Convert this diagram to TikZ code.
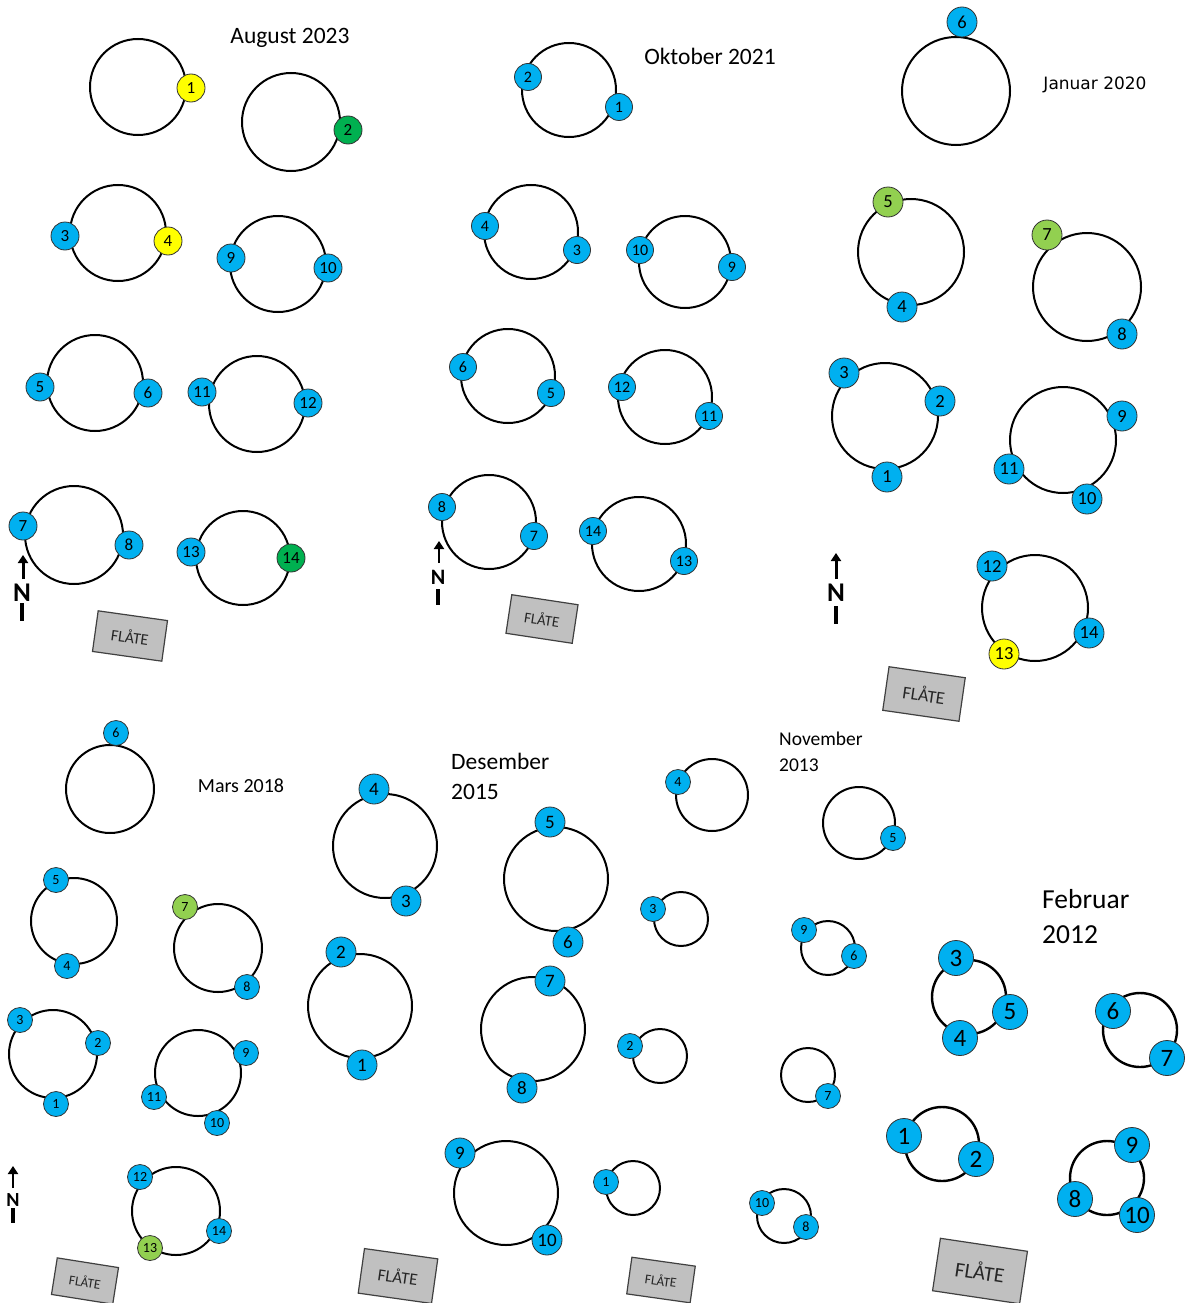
\documentclass[tikz,border=0pt]{standalone}
\usepackage{fontspec}
\setmainfont{Carlito}
\newfontfamily\dejavu{DejaVu Sans}
\usetikzlibrary{arrows.meta}
\definecolor{bblue}{HTML}{00B0F0}
\definecolor{byel}{HTML}{FFFF00}
\definecolor{bdgreen}{HTML}{00B050}
\definecolor{blgreen}{HTML}{92D050}
\definecolor{flgray}{HTML}{C0C0C0}
\newcommand\fsz[1]{\fontsize{#1}{#1}\selectfont}
\tikzset{
  cage/.style={circle, draw=black, line width=2pt, inner sep=0pt, minimum size=#1},
  buoy/.style={circle, draw=black!80, line width=0.8pt, fill=bblue, inner sep=0pt, text=black},
  bA/.style={buoy, minimum size=28pt, font=\fsz{17}},
  bO/.style={buoy, minimum size=27pt, font=\fsz{16}},
  bJ/.style={buoy, minimum size=30pt, font=\fsz{18.5}},
  bM/.style={buoy, minimum size=25pt, font=\fsz{14}},
  bD/.style={buoy, minimum size=30pt, font=\fsz{19}},
  bN/.style={buoy, minimum size=25pt, font=\fsz{14}},
  bF/.style={buoy, minimum size=35pt, font=\fsz{25}},
  flate/.style={draw=black!75, line width=1.2pt, fill=flgray, inner sep=0pt, text=black!85},
  narrow/.style={line width=3pt, -{Triangle[width=10pt,length=8pt]}},
  nbar/.style={line width=4pt},
  title/.style={text=black, inner sep=0pt},
}
\begin{document}
\begin{tikzpicture}[x=1pt,y=-1pt]
\useasboundingbox (0,0) rectangle (1187,1303);
\fill[white] (0,0) rectangle (1187,1303);

% ================= August 2023 =================
\node[title, font=\fsz{23.5}] (Atitle) at (290,38) {August 2023};
\node[cage=96pt] (Ac1) at (138,87) {};
\node[cage=98pt] (Ac2) at (291,122) {};
\node[cage=96pt] (Ac34) at (118,233) {};
\node[cage=96pt] (Ac910) at (278,264) {};
\node[cage=96pt] (Ac56) at (95,383) {};
\node[cage=96pt] (Ac1112) at (257,404) {};
\node[cage=98pt] (Ac78) at (74,535) {};
\node[cage=94pt] (Ac1314) at (243,558) {};
\node[bA, fill=byel] (Ab1) at (191,88) {1};
\node[bA, fill=bdgreen] (Ab2) at (348,130) {2};
\node[bA] (Ab3) at (65,236) {3};
\node[bA, fill=byel] (Ab4) at (168,241) {4};
\node[bA] (Ab9) at (231,258) {9};
\node[bA] (Ab10) at (328,268) {10};
\node[bA] (Ab5) at (40,387) {5};
\node[bA] (Ab6) at (148,393) {6};
\node[bA] (Ab11) at (202,392) {11};
\node[bA] (Ab12) at (308,403) {12};
\node[bA] (Ab7) at (23,526) {7};
\node[bA] (Ab8) at (129,545) {8};
\node[bA] (Ab13) at (191,552) {13};
\node[bA, fill=bdgreen] (Ab14) at (291,558) {14};
\coordinate (Antail) at (23,579);
\coordinate (Antip) at (23,555);
\draw[narrow] (Antail) -- (Antip);
\node[title, font=\bfseries\fsz{27}] (AN) at (22,593) {N};
\coordinate (Abar1) at (22,603);
\coordinate (Abar2) at (22,621);
\draw[nbar] (Abar1) -- (Abar2);
\node[flate, minimum width=70pt, minimum height=41pt, rotate=-8, font=\fsz{16}] (Aflate) at (130,636) {FLÅTE};

% ================= Oktober 2021 =================
\node[title, font=\fsz{23.5}] (Otitle) at (710,56) {Oktober 2021};
\node[cage=94pt] (Oc12) at (569,90) {};
\node[cage=94pt] (Oc34) at (531,232) {};
\node[cage=92pt] (Oc910) at (685,262) {};
\node[cage=94pt] (Oc56) at (508,376) {};
\node[cage=94pt] (Oc1112) at (665,397) {};
\node[cage=94pt] (Oc78) at (489,522) {};
\node[cage=94pt] (Oc1314) at (639,544) {};
\node[bO] (Ob2) at (528,77) {2};
\node[bO] (Ob1) at (619,107) {1};
\node[bO] (Ob4) at (485,226) {4};
\node[bO] (Ob3) at (577,250) {3};
\node[bO] (Ob10) at (640,250) {10};
\node[bO] (Ob9) at (732,267) {9};
\node[bO] (Ob6) at (463,367) {6};
\node[bO] (Ob5) at (551,393) {5};
\node[bO] (Ob12) at (622,387) {12};
\node[bO] (Ob11) at (709,416) {11};
\node[bO] (Ob8) at (442,507) {8};
\node[bO] (Ob7) at (534,536) {7};
\node[bO] (Ob14) at (593,531) {14};
\node[bO] (Ob13) at (684,561) {13};
\coordinate (Ontail) at (439,563);
\coordinate (Ontip) at (439,541);
\draw[narrow, line width=2.6pt] (Ontail) -- (Ontip);
\node[title, font=\bfseries\fsz{22}] (ON) at (438,577) {N};
\coordinate (Obar1) at (438,589);
\coordinate (Obar2) at (438,605);
\draw[nbar, line width=3.4pt] (Obar1) -- (Obar2);
\node[flate, minimum width=67pt, minimum height=39pt, rotate=-8.6, font=\fsz{15}] (Oflate) at (542,619) {FLÅTE};

% ================= Januar 2020 =================
\node[title, font=\dejavu\fsz{17}] (Jtitle) at (1095,85) {Januar 2020};
\node[cage=108pt] (Jc6) at (956,91) {};
\node[cage=106pt] (Jc45) at (911,252) {};
\node[cage=108pt] (Jc78) at (1087,287) {};
\node[cage=106pt] (Jc123) at (885,416) {};
\node[cage=106pt] (Jc91011) at (1063,440) {};
\node[cage=106pt] (Jc121314) at (1035,608) {};
\node[bJ] (Jb6) at (962,22) {6};
\node[bJ, fill=blgreen] (Jb5) at (888,202) {5};
\node[bJ] (Jb4) at (902,307) {4};
\node[bJ, fill=blgreen] (Jb7) at (1047,235) {7};
\node[bJ] (Jb8) at (1122,334) {8};
\node[bJ] (Jb3) at (844,373) {3};
\node[bJ] (Jb2) at (940,401) {2};
\node[bJ] (Jb1) at (887,477) {1};
\node[bJ] (Jb9) at (1122,416) {9};
\node[bJ] (Jb11) at (1009,469) {11};
\node[bJ] (Jb10) at (1087,499) {10};
\node[bJ] (Jb12) at (992,566) {12};
\node[bJ] (Jb14) at (1089,633) {14};
\node[bJ, fill=byel] (Jb13) at (1004,654) {13};
\coordinate (Jntail) at (836,579);
\coordinate (Jntip) at (836,553);
\draw[narrow] (Jntail) -- (Jntip);
\node[title, font=\bfseries\fsz{27}] (JN) at (836,593) {N};
\coordinate (Jbar1) at (836,606);
\coordinate (Jbar2) at (836,624);
\draw[nbar] (Jbar1) -- (Jbar2);
\node[flate, minimum width=77pt, minimum height=44pt, rotate=-8.2, font=\fsz{18}] (Jflate) at (924,694) {FLÅTE};

% ================= Mars 2018 =================
\node[title, font=\fsz{20}] (Mtitle) at (241,786) {Mars 2018};
\node[cage=88pt] (Mc6) at (110,789) {};
\node[cage=86pt] (Mc54) at (74,921) {};
\node[cage=88pt] (Mc78) at (218,948) {};
\node[cage=88pt] (Mc123) at (53,1054) {};
\node[cage=86pt] (Mc91011) at (198,1073) {};
\node[cage=88pt] (Mc121314) at (176,1211) {};
\node[bM] (Mb6) at (116,733) {6};
\node[bM] (Mb5) at (56,880) {5};
\node[bM] (Mb4) at (67,966) {4};
\node[bM, fill=blgreen] (Mb7) at (185,907) {7};
\node[bM] (Mb8) at (247,987) {8};
\node[bM] (Mb3) at (20,1020) {3};
\node[bM] (Mb2) at (98,1043) {2};
\node[bM] (Mb1) at (56,1104) {1};
\node[bM] (Mb9) at (246,1053) {9};
\node[bM] (Mb11) at (154,1097) {11};
\node[bM] (Mb10) at (217,1123) {10};
\node[bM] (Mb12) at (140,1177) {12};
\node[bM] (Mb14) at (219,1231) {14};
\node[bM, fill=blgreen] (Mb13) at (150,1248) {13};
\coordinate (Mntail) at (13,1188);
\coordinate (Mntip) at (13,1166);
\draw[narrow, line width=2.4pt] (Mntail) -- (Mntip);
\node[title, font=\bfseries\fsz{20}] (MN) at (13,1200) {N};
\coordinate (Mbar1) at (13,1208);
\coordinate (Mbar2) at (13,1223);
\draw[nbar, line width=3.2pt] (Mbar1) -- (Mbar2);
\node[flate, minimum width=62pt, minimum height=37pt, rotate=-9, font=\fsz{13.5}] (Mflate) at (85,1281) {FLÅTE};

% ================= Desember 2015 =================
\node[title, font=\fontsize{23.5}{30}\selectfont, align=left, anchor=west] (Dtitle) at (451,776) {Desember\\2015};
\node[cage=104pt] (Dc43) at (385,846) {};
\node[cage=104pt] (Dc56) at (556,879) {};
\node[cage=104pt] (Dc21) at (360,1006) {};
\node[cage=104pt] (Dc78) at (533,1029) {};
\node[cage=104pt] (Dc910) at (506,1193) {};
\node[bD] (Db4) at (374,789) {4};
\node[bD] (Db3) at (406,901) {3};
\node[bD] (Db5) at (550,822) {5};
\node[bD] (Db6) at (568,942) {6};
\node[bD] (Db2) at (341,952) {2};
\node[bD] (Db1) at (362,1065) {1};
\node[bD] (Db7) at (550,981) {7};
\node[bD] (Db8) at (522,1088) {8};
\node[bD] (Db9) at (460,1153) {9};
\node[bD] (Db10) at (547,1240) {10};
\node[flate, minimum width=74pt, minimum height=45pt, rotate=-8, font=\fsz{17}] (Dflate) at (398,1276) {FLÅTE};

% ================= November 2013 =================
\node[title, font=\fontsize{19.5}{26}\selectfont, align=left, anchor=west] (Ntitle) at (779,752) {November\\2013};
\node[cage=72pt] (Nc4) at (712,795) {};
\node[cage=72pt] (Nc5) at (859,823) {};
\node[cage=54pt] (Nc3) at (681,919) {};
\node[cage=54pt] (Nc96) at (828,948) {};
\node[cage=54pt] (Nc2) at (660,1056) {};
\node[cage=54pt] (Nc7) at (808,1075) {};
\node[cage=54pt] (Nc1) at (633,1188) {};
\node[cage=54pt] (Nc108) at (784,1216) {};
\node[bN] (Nb4) at (678,782) {4};
\node[bN] (Nb5) at (893,838) {5};
\node[bN] (Nb3) at (653,909) {3};
\node[bN] (Nb9) at (804,930) {9};
\node[bN] (Nb6) at (854,956) {6};
\node[bN] (Nb2) at (630,1046) {2};
\node[bN] (Nb7) at (828,1096) {7};
\node[bN] (Nb1) at (606,1182) {1};
\node[bN] (Nb10) at (762,1203) {10};
\node[bN] (Nb8) at (806,1227) {8};
\node[flate, minimum width=64pt, minimum height=37pt, rotate=-8, font=\fsz{13.5}] (Nflate) at (661,1280) {FLÅTE};

% ================= Februar 2012 =================
\node[title, font=\fontsize{27.5}{35}\selectfont, align=left, anchor=west] (Ftitle) at (1042,917) {Februar\\2012};
\node[cage=74pt, line width=2.4pt] (Fc345) at (969,997) {};
\node[cage=74pt, line width=2.4pt] (Fc67) at (1140,1030) {};
\node[cage=74pt, line width=2.4pt] (Fc12) at (942,1144) {};
\node[cage=74pt, line width=2.4pt] (Fc8910) at (1107,1178) {};
\node[bF] (Fb3) at (956,958) {3};
\node[bF] (Fb5) at (1010,1012) {5};
\node[bF] (Fb4) at (960,1038) {4};
\node[bF] (Fb6) at (1113,1011) {6};
\node[bF] (Fb7) at (1167,1058) {7};
\node[bF] (Fb1) at (904,1136) {1};
\node[bF] (Fb2) at (976,1159) {2};
\node[bF] (Fb9) at (1132,1145) {9};
\node[bF] (Fb8) at (1075,1199) {8};
\node[bF] (Fb10) at (1137,1215) {10};
\node[flate, minimum width=88pt, minimum height=53pt, rotate=-8.5, font=\fsz{21}] (Fflate) at (980,1271) {FLÅTE};
\end{tikzpicture}
\end{document}
